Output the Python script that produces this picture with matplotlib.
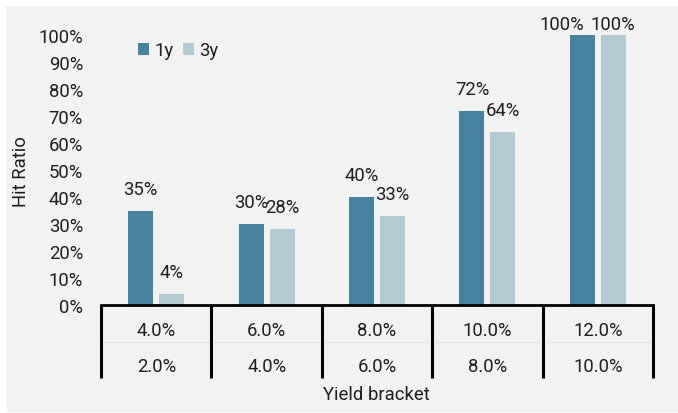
import matplotlib
matplotlib.use("Agg")
import matplotlib.pyplot as plt
from matplotlib.patches import Rectangle, Patch
from matplotlib.transforms import blended_transform_factory

plt.rcParams['font.family'] = ['Roboto', 'DejaVu Sans']

# Yield brackets: upper and lower bound of each bucket
upper_bounds = ["4.0%", "6.0%", "8.0%", "10.0%", "12.0%"]
lower_bounds = ["2.0%", "4.0%", "6.0%", "8.0%", "10.0%"]
series_names = ["1y", "3y"]
hit_1y = [0.35, 0.30, 0.40, 0.72, 1.00]
hit_3y = [0.04, 0.28, 0.33, 0.64, 1.00]
y_ticks = [0.0, 0.1, 0.2, 0.3, 0.4, 0.5, 0.6, 0.7, 0.8, 0.9, 1.0]

c_1y = "#44829E"
c_3y = "#B3CAD3"
bg = "#F2F2F2"
txt = "#1E1E1E"
fs = 13.3

W, H = 678, 414
fig = plt.figure(figsize=(W / 100, H / 100), dpi=100)
fig.patch.set_facecolor("white")
fig.patches.append(Rectangle((6 / W, 1 / H), (W - 6) / W, (H - 8) / H,
                             transform=fig.transFigure, facecolor=bg,
                             edgecolor="none", zorder=-5))

left, right, top, bottom = 101, 653, 36, 306
ax = fig.add_axes([left / W, 1 - bottom / H, (right - left) / W, (bottom - top) / H])
ax.set_facecolor("none")
ax.set_zorder(2)

n = len(upper_bounds)
centers = [i + 0.5 for i in range(n)]
bw = 0.226
off = 0.14
b1 = ax.bar([c - off for c in centers], hit_1y, width=bw, color=c_1y, zorder=2)
b2 = ax.bar([c + off for c in centers], hit_3y, width=bw, color=c_3y, zorder=2)

ax.set_xlim(0, n)
ax.set_ylim(0, 1)
ax.set_yticks(y_ticks)
ax.set_yticklabels([f"{int(round(t * 100))}%" for t in y_ticks], fontsize=fs, color=txt)
ax.tick_params(axis="y", length=0, pad=13)
ax.set_xticks([])
for s in ["left", "right", "top"]:
    ax.spines[s].set_visible(False)
ax.spines["bottom"].set_linewidth(2)
ax.spines["bottom"].set_color("black")

# Value labels above each bar; labels near the top sit lower, and the
# left one of a full-height pair is nudged aside so the two don't collide
for k, (bars, vals) in enumerate(((b1, hit_1y), (b2, hit_3y))):
    for j, (rect, v) in enumerate(zip(bars, vals)):
        near_top = v >= 0.95
        dy = 4.3 if near_top else 12.2
        dx = -15 if (k == 0 and near_top and hit_3y[j] >= 0.95) else 0
        ax.annotate(f"{int(round(v * 100))}%",
                    (rect.get_x() + rect.get_width() / 2, v),
                    xytext=(dx, dy), textcoords="offset points",
                    ha="center", va="baseline", fontsize=fs, color=txt,
                    annotation_clip=False)

# Two-row category axis with separators
ph = bottom - top
tr = blended_transform_factory(ax.transData, ax.transAxes)
y_end = -(379 - bottom) / ph
for i in range(n + 1):
    ax.plot([i, i], [0, y_end], transform=tr, color="black", lw=2.2,
            clip_on=False, solid_capstyle="butt", zorder=3)
ax.plot([0, n], [-(343 - bottom) / ph] * 2, transform=tr, color="#E2E2E2",
        lw=0.8, clip_on=False, zorder=1)
for c, u, l in zip(centers, upper_bounds, lower_bounds):
    ax.text(c, -(331 - bottom) / ph, u, transform=tr, ha="center", va="center",
            fontsize=fs, color=txt)
    ax.text(c, -(367 - bottom) / ph, l, transform=tr, ha="center", va="center",
            fontsize=fs, color=txt)

fig.text(376 / W, 1 - 395 / H, "Yield bracket", ha="center", va="center",
         fontsize=fs, color=txt)
fig.text(21 / W, 1 - 172 / H, "Hit Ratio", ha="center", va="center",
         rotation=90, fontsize=fs, color=txt)

handles = [Patch(facecolor=c_1y, label=series_names[0]),
           Patch(facecolor=c_3y, label=series_names[1])]
fig.legend(handles=handles, loc="center left", bbox_to_anchor=(138 / W, 1 - 51.5 / H),
           ncol=2, frameon=False, fontsize=fs, handlelength=0.6, handleheight=0.6,
           handletextpad=0.3, columnspacing=0.5, borderpad=0, borderaxespad=0,
           labelcolor=txt)

fig.savefig("out.png", dpi=100, facecolor=fig.get_facecolor())
